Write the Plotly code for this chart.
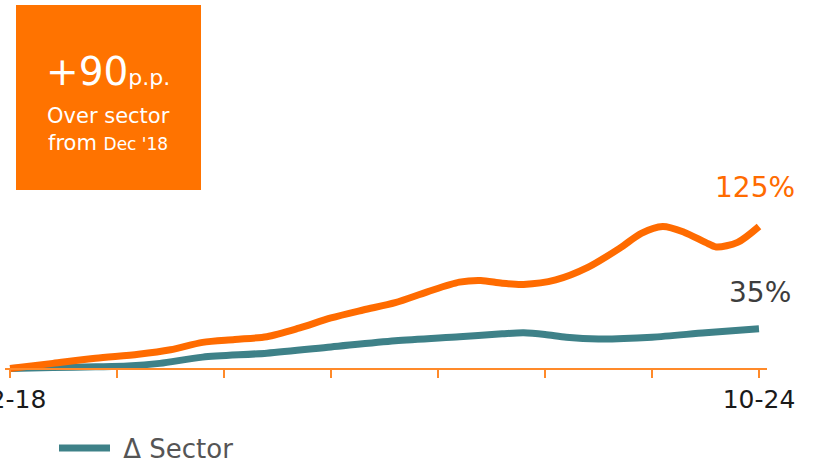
import plotly.graph_objects as go

# Cumulative change since Dec 2018, in %, by month index (0 = Dec '18, 70 = Oct '24)
company_months = [0, 4, 8, 12, 15, 18, 21, 24, 27, 30, 33, 36, 39, 42, 44, 46, 48,
                  51, 54, 57, 59, 61, 63, 65, 66, 68, 70]
company_values = [0, 4.5, 9, 12.5, 16.5, 23, 25.5, 28, 35.5, 44.5, 51.5, 58, 67.5, 76,
                  77.5, 75, 74, 78, 89, 106, 119, 125, 120, 111, 107, 111, 125]

sector_months = [0, 4, 8, 11, 14, 18, 24, 30, 36, 42, 46, 48, 50, 52, 55, 60, 65, 70]
sector_values = [0, 0.8, 1.5, 2.2, 4.5, 10, 13.5, 19, 24.5, 28, 30.5, 31.4, 30, 27.5,
                 26, 27.6, 31.5, 35]

tick_months = [0, 10, 20, 30, 40, 50, 60, 70]
tick_labels = ["12-18", "", "", "", "", "", "", "10-24"]

ORANGE = "#FF6B00"
AXIS_ORANGE = "#FF8A2A"
BOX_ORANGE = "#FF7300"
TEAL = "#3E8188"
FONT = "DejaVu Sans"

fig = go.Figure()
fig.add_trace(go.Scatter(
    x=sector_months, y=sector_values, mode="lines", name=" Δ Sector",
    line=dict(color=TEAL, width=7, shape="spline", smoothing=0.8),
    showlegend=True,
))
fig.add_trace(go.Scatter(
    x=company_months, y=company_values, mode="lines", name="Company",
    line=dict(color=ORANGE, width=7, shape="spline", smoothing=0.8),
    showlegend=False,
))

# End-of-series value labels
fig.add_annotation(x=company_months[-1], y=company_values[-1],
                   text=f"{company_values[-1]:.0f}%", showarrow=False,
                   xanchor="right", yanchor="middle", xshift=38, yshift=39,
                   font=dict(family=FONT, size=28, color=ORANGE))
fig.add_annotation(x=sector_months[-1], y=sector_values[-1],
                   text=f"{sector_values[-1]:.0f}%", showarrow=False,
                   xanchor="right", yanchor="middle", xshift=34, yshift=36,
                   font=dict(family=FONT, size=28, color="#3D3D3D"))

# Highlight box with the spread over the sector
spread = company_values[-1] - sector_values[-1]
W, H = 813, 462
ML, MR, MT, MB = 5, 46, 0, 86
pw, ph = W - ML - MR, H - MT - MB


def px_x(p):
    return (p - ML) / pw


def px_y(p):
    return (H - MB - p) / ph


fig.add_shape(type="rect", xref="paper", yref="paper",
              x0=px_x(16), x1=px_x(201), y0=px_y(190), y1=px_y(5),
              fillcolor=BOX_ORANGE, line=dict(width=0), layer="above")
fig.add_annotation(xref="paper", yref="paper", x=px_x(108), y=px_y(71),
                   text=f"+{spread:.0f}<span style='font-size:22px'>p.p.</span>",
                   showarrow=False, xanchor="center", yanchor="middle",
                   font=dict(family=FONT, size=39, color="white"))
fig.add_annotation(xref="paper", yref="paper", x=px_x(108), y=px_y(116),
                   text="Over sector", showarrow=False,
                   xanchor="center", yanchor="middle",
                   font=dict(family=FONT, size=21, color="white"))
fig.add_annotation(xref="paper", yref="paper", x=px_x(108), y=px_y(143),
                   text="from <span style='font-size:17px'>Dec '18</span>",
                   showarrow=False, xanchor="center", yanchor="middle",
                   font=dict(family=FONT, size=21, color="white"))

zero_px = 368.5
per_pct = 1.136
fig.update_layout(
    width=W, height=H,
    margin=dict(l=ML, r=MR, t=MT, b=MB, autoexpand=False),
    paper_bgcolor="white", plot_bgcolor="white",
    font=dict(family=FONT),
    xaxis=dict(
        range=[-0.47, 70.75],
        tickmode="array", tickvals=tick_months, ticktext=tick_labels,
        ticks="outside", ticklen=8, tickwidth=2, tickcolor=AXIS_ORANGE,
        showline=True, linecolor=AXIS_ORANGE, linewidth=2,
        showgrid=False, zeroline=False, automargin=False,
        ticklabeloverflow="allow",
        anchor="free", position=(H - MB - zero_px) / ph,
        tickfont=dict(family=FONT, size=25, color="#1A1A1A"),
    ),
    yaxis=dict(
        range=[(zero_px - (H - MB)) / per_pct, zero_px / per_pct],
        visible=False, showgrid=False, zeroline=False,
    ),
    legend=dict(
        orientation="h", x=px_x(54), y=px_y(448), xanchor="left", yanchor="middle",
        font=dict(family=FONT, size=26, color="#555555"),
        itemwidth=51, bgcolor="rgba(0,0,0,0)",
    ),
)

fig.write_html("out.html")
